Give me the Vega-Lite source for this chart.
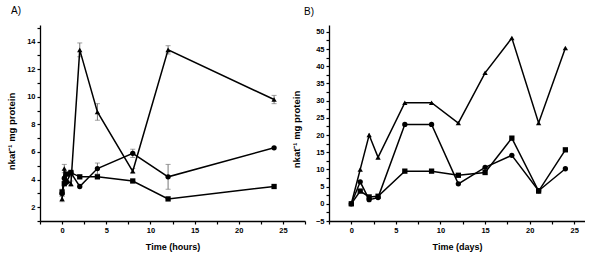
{
  "$schema": "https://vega.github.io/schema/vega-lite/v6.json",
  "padding": {"left": 6, "top": 5, "right": 0, "bottom": 0},
  "bounds": "flush",
  "spacing": 24,
  "background": "white",
  "config": {
    "view": {"stroke": null},
    "font": "Liberation Sans",
    "axis": {
      "grid": false,
      "domainColor": "#000",
      "domainWidth": 1.3,
      "tickColor": "#000",
      "tickWidth": 1.2,
      "tickSize": 3,
      "labelFont": "Liberation Sans",
      "labelFontWeight": "bold",
      "labelFontSize": 7.5,
      "labelColor": "#000",
      "labelPadding": 2,
      "titleFont": "Liberation Sans",
      "titleFontWeight": "bold",
      "titleFontSize": 9,
      "titleColor": "#000"
    },
    "axisY": {"titleFontSize": 9.5},
    "title": {"font": "Liberation Sans", "fontWeight": "normal", "fontSize": 10, "anchor": "start", "color": "#000", "offset": 8}
  },
  "datasets": {
    "a": [
      {"t": 0, "v": 2.6, "s": "tri"}, {"t": 0.25, "v": 4.8, "s": "tri"}, {"t": 0.5, "v": 4.0, "s": "tri"}, {"t": 1, "v": 3.7, "s": "tri"}, {"t": 2, "v": 13.4, "s": "tri"}, {"t": 4, "v": 8.9, "s": "tri"}, {"t": 8, "v": 4.6, "s": "tri"}, {"t": 12, "v": 13.4, "s": "tri"}, {"t": 24, "v": 9.8, "s": "tri"},
      {"t": 0, "v": 3.0, "s": "circ"}, {"t": 0.25, "v": 4.1, "s": "circ"}, {"t": 0.5, "v": 3.8, "s": "circ"}, {"t": 1, "v": 4.5, "s": "circ"}, {"t": 2, "v": 3.5, "s": "circ"}, {"t": 4, "v": 4.8, "s": "circ"}, {"t": 8, "v": 5.9, "s": "circ"}, {"t": 12, "v": 4.2, "s": "circ"}, {"t": 24, "v": 6.3, "s": "circ"},
      {"t": 0, "v": 3.1, "s": "sq"}, {"t": 0.25, "v": 3.7, "s": "sq"}, {"t": 0.5, "v": 4.4, "s": "sq"}, {"t": 1, "v": 4.5, "s": "sq"}, {"t": 2, "v": 4.2, "s": "sq"}, {"t": 4, "v": 4.2, "s": "sq"}, {"t": 8, "v": 3.9, "s": "sq"}, {"t": 12, "v": 2.6, "s": "sq"}, {"t": 24, "v": 3.5, "s": "sq"}
    ],
    "aerr": [
      {"t": 0, "v": 2.4, "v2": 2.8}, {"t": 0.25, "v": 4.5, "v2": 5.1}, {"t": 1, "v": 3.5, "v2": 3.9}, {"t": 2, "v": 12.9, "v2": 13.9}, {"t": 4, "v": 8.3, "v2": 9.5}, {"t": 8, "v": 4.5, "v2": 4.8}, {"t": 12, "v": 13.1, "v2": 13.7}, {"t": 24, "v": 9.5, "v2": 10.1},
      {"t": 0, "v": 2.8, "v2": 3.3}, {"t": 1, "v": 4.2, "v2": 4.7}, {"t": 4, "v": 4.4, "v2": 5.2}, {"t": 8, "v": 5.6, "v2": 6.2}, {"t": 12, "v": 3.3, "v2": 5.1}
    ],
    "b": [
      {"t": 0, "v": 0, "s": "tri"}, {"t": 1, "v": 10.0, "s": "tri"}, {"t": 2, "v": 20.0, "s": "tri"}, {"t": 3, "v": 13.5, "s": "tri"}, {"t": 6, "v": 29.4, "s": "tri"}, {"t": 9, "v": 29.4, "s": "tri"}, {"t": 12, "v": 23.5, "s": "tri"}, {"t": 15, "v": 38.1, "s": "tri"}, {"t": 18, "v": 48.2, "s": "tri"}, {"t": 21, "v": 23.5, "s": "tri"}, {"t": 24, "v": 45.3, "s": "tri"},
      {"t": 0, "v": 0, "s": "circ"}, {"t": 1, "v": 6.4, "s": "circ"}, {"t": 2, "v": 1.2, "s": "circ"}, {"t": 3, "v": 1.8, "s": "circ"}, {"t": 6, "v": 23.1, "s": "circ"}, {"t": 9, "v": 23.1, "s": "circ"}, {"t": 12, "v": 5.8, "s": "circ"}, {"t": 15, "v": 10.6, "s": "circ"}, {"t": 18, "v": 14.1, "s": "circ"}, {"t": 21, "v": 3.8, "s": "circ"}, {"t": 24, "v": 10.2, "s": "circ"},
      {"t": 0, "v": 0, "s": "sq"}, {"t": 1, "v": 3.7, "s": "sq"}, {"t": 2, "v": 2.0, "s": "sq"}, {"t": 3, "v": 2.2, "s": "sq"}, {"t": 6, "v": 9.5, "s": "sq"}, {"t": 9, "v": 9.5, "s": "sq"}, {"t": 12, "v": 8.3, "s": "sq"}, {"t": 15, "v": 9.1, "s": "sq"}, {"t": 18, "v": 19.1, "s": "sq"}, {"t": 21, "v": 3.7, "s": "sq"}, {"t": 24, "v": 15.7, "s": "sq"}
    ]
  },
  "hconcat": [
    {
      "width": 265,
      "height": 196,
      "title": {"text": "A)", "dx": 5},
      "encoding": {
        "x": {"field": "t", "type": "quantitative", "title": "Time (hours)",
          "scale": {"domain": [-2.5, 27.5], "nice": false, "zero": false},
          "axis": {"values": [-2.5, 0, 2.5, 5, 7.5, 10, 12.5, 15, 17.5, 20, 22.5, 25, 27.5],
            "labelExpr": "datum.value % 5 == 0 ? datum.label : ''",
            "labelOverlap": false, "labelBound": false, "titlePadding": 9}},
        "y": {"field": "v", "type": "quantitative", "title": "nkat⁻¹ mg protein",
          "scale": {"domain": [1, 15.2], "nice": false, "zero": false},
          "axis": {"values": [1, 2, 3, 4, 5, 6, 7, 8, 9, 10, 11, 12, 13, 14, 15],
            "labelExpr": "datum.value % 2 == 0 ? datum.label : ''",
            "labelOverlap": false, "labelBound": false, "titleX": -24, "titleY": 106}}
      },
      "layer": [
        {
          "data": {"name": "aerr"},
          "mark": {"type": "rule", "color": "#777", "strokeWidth": 1},
          "encoding": {"y2": {"field": "v2"}}
        },
        {
          "data": {"name": "aerr"},
          "mark": {"type": "tick", "orient": "horizontal", "color": "#777", "size": 5, "thickness": 1}
        },
        {
          "data": {"name": "aerr"},
          "mark": {"type": "tick", "orient": "horizontal", "color": "#777", "size": 5, "thickness": 1},
          "encoding": {
            "y": {"field": "v2", "type": "quantitative", "title": "nkat⁻¹ mg protein",
              "axis": {"values": [1, 2, 3, 4, 5, 6, 7, 8, 9, 10, 11, 12, 13, 14, 15],
                "labelExpr": "datum.value % 2 == 0 ? datum.label : ''",
                "labelOverlap": false, "labelBound": false, "titleX": -24, "titleY": 106}}
          }
        },
        {
          "data": {"name": "a"},
          "mark": {"type": "line", "color": "#000", "strokeWidth": 1.5},
          "encoding": {"detail": {"field": "s"}}
        },
        {
          "data": {"name": "a"},
          "mark": {"type": "point", "filled": true, "color": "#000", "opacity": 1, "size": 28},
          "encoding": {
            "shape": {"field": "s", "type": "nominal", "legend": null,
              "scale": {"domain": ["tri", "circ", "sq"], "range": ["triangle-up", "circle", "square"]}}
          }
        }
      ]
    },
    {
      "width": 256,
      "height": 196,
      "title": {"text": "B)", "dx": 13},
      "data": {"name": "b"},
      "encoding": {
        "x": {"field": "t", "type": "quantitative", "title": "Time (days)",
          "scale": {"domain": [-2.5, 26.2], "nice": false, "zero": false},
          "axis": {"values": [-2.5, 0, 2.5, 5, 7.5, 10, 12.5, 15, 17.5, 20, 22.5, 25],
            "labelExpr": "datum.value % 5 == 0 ? datum.label : ''",
            "labelOverlap": false, "labelBound": false, "titlePadding": 9}},
        "y": {"field": "v", "type": "quantitative", "title": "nkat⁻¹ mg protein",
          "scale": {"domain": [-5, 52], "nice": false, "zero": false},
          "axis": {"values": [-5, -2.5, 0, 2.5, 5, 7.5, 10, 12.5, 15, 17.5, 20, 22.5, 25, 27.5, 30, 32.5, 35, 37.5, 40, 42.5, 45, 47.5, 50],
            "labelExpr": "datum.value % 5 == 0 ? datum.label : ''",
            "labelOverlap": false, "labelBound": false, "titleX": -28, "titleY": 104}}
      },
      "layer": [
        {
          "mark": {"type": "line", "color": "#000", "strokeWidth": 1.5},
          "encoding": {"detail": {"field": "s"}}
        },
        {
          "mark": {"type": "point", "filled": true, "color": "#000", "opacity": 1, "size": 28},
          "encoding": {
            "shape": {"field": "s", "type": "nominal", "legend": null,
              "scale": {"domain": ["tri", "circ", "sq"], "range": ["triangle-up", "circle", "square"]}}
          }
        }
      ]
    }
  ]
}
